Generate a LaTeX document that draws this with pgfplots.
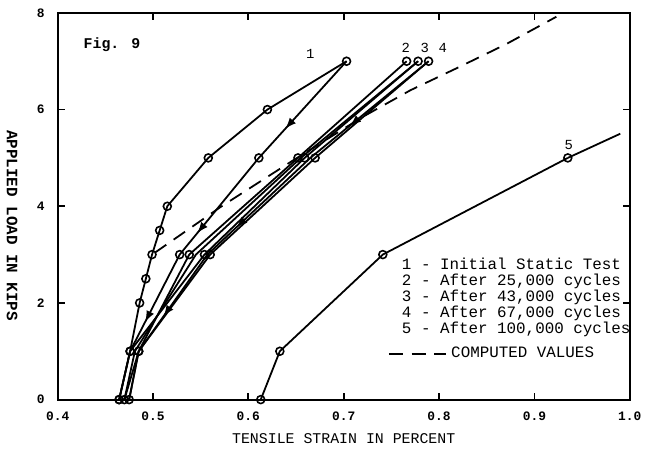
\documentclass[border=0pt]{standalone}
\usepackage{fontspec}
\setmainfont{Liberation Mono}
\usepackage{pgfplots}
\pgfplotsset{compat=1.18}
\usetikzlibrary{decorations.markings}

\tikzset{
  unload/.style={postaction={decorate},
    decoration={markings,
      mark=at position 0.22 with {\arrow{latex}},
      mark=at position 0.55 with {\arrow{latex}},
      mark=at position 0.8 with {\arrow{latex}}}},
}

\begin{document}
\begin{tikzpicture}
\begin{axis}[
  scale only axis,
  width=288.5pt, height=195pt,
  xmin=0.4, xmax=1.0, ymin=0, ymax=8,
  xtick={0.4,0.5,0.6,0.7,0.8,0.9,1.0},
  xticklabels={0.4,0.5,0.6,0.7,0.8,0.9,1.0},
  ytick={0,2,4,6,8},
  tick align=inside,
  major tick length=3.5pt,
  axis line style={line width=1.1pt},
  tick style={line width=0.9pt, black},
  /pgf/number format/assume math mode=true,
  ticklabel style={font=\bfseries\fontsize{6.5}{7}\selectfont},
  yticklabel style={xshift=-3pt},
  xticklabel style={yshift=-2.5pt},
  xlabel={TENSILE STRAIN IN PERCENT},
  ylabel={\bfseries APPLIED LOAD IN KIPS},
  xlabel style={font=\fontsize{7.5}{8}\selectfont},
  ylabel style={font=\fontsize{8}{9}\selectfont, rotate=180, anchor=north,
    at={(ticklabel cs:0.45,3pt)}},
  every axis plot/.append style={black, line width=0.9pt},
  legend style={at={(axis cs:0.746,0.94)}, anchor=west, draw=none, fill=none,
    inner sep=0pt, font=\fontsize{8}{8.5}\selectfont,
    /tikz/column 2/.style={column sep=5pt}},
  legend image code/.code={\draw[#1] (0pt,0pt) -- (29pt,0pt);},
  extra description/.code={\path (rel axis cs:0,1) ++(0,6.5pt);},
]

% 1 - initial static test, loading
\addplot[mark=o, mark size=2pt, mark options={fill=white, line width=0.8pt}, forget plot]
coordinates {(0.4645,0) (0.476,1) (0.486,2) (0.4925,2.5) (0.499,3) (0.507,3.5)
  (0.515,4) (0.558,5) (0.620,6) (0.703,7)};
% 1 - unloading
\addplot[unload, forget plot]
coordinates {(0.703,7) (0.611,5) (0.528,3) (0.476,1) (0.4645,0)};
\addplot[only marks, mark=o, mark size=2pt, mark options={fill=white, line width=0.8pt}, forget plot]
coordinates {(0.611,5) (0.528,3)};

% 2, 3, 4 - after 25,000 / 43,000 / 67,000 cycles
\addplot[forget plot] coordinates {(0.778,7) (0.655,5) (0.545,3) (0.481,1) (0.470,0)};
\addplot[unload, forget plot] coordinates {(0.789,7) (0.665,5) (0.557,3) (0.485,1) (0.475,0)};
\addplot[mark=o, mark size=2pt, mark options={fill=white, line width=0.8pt}, forget plot]
coordinates {(0.470,0) (0.485,1) (0.538,3) (0.652,5) (0.766,7)};
\addplot[mark=o, mark size=2pt, mark options={fill=white, line width=0.8pt}, forget plot]
coordinates {(0.4645,0) (0.476,1) (0.554,3) (0.659,5) (0.778,7)};
\addplot[mark=o, mark size=2pt, mark options={fill=white, line width=0.8pt}, forget plot]
coordinates {(0.475,0) (0.485,1) (0.560,3) (0.670,5) (0.789,7)};

% 5 - after 100,000 cycles
\addplot[mark=o, mark size=2pt, mark options={fill=white, line width=0.8pt}, forget plot]
coordinates {(0.613,0) (0.633,1) (0.741,3) (0.935,5)};
\addplot[forget plot] coordinates {(0.935,5) (0.990,5.5)};

% computed values
\addplot[dash pattern=on 7pt off 4.5pt, line width=0.9pt]
coordinates {(0.502,3.04) (0.572,4.0) (0.647,4.95) (0.720,5.85) (0.770,6.40)
  (0.820,6.87) (0.870,7.35) (0.923,7.92)};
\addlegendentry{COMPUTED VALUES}

\node[font=\bfseries\fontsize{7.5}{8}\selectfont] at (axis cs:0.457,7.34) {Fig. 9};
\node[font=\fontsize{7}{8}\selectfont] at (axis cs:0.665,7.15) {1};
\node[font=\fontsize{7}{8}\selectfont] at (axis cs:0.765,7.28) {2};
\node[font=\fontsize{7}{8}\selectfont] at (axis cs:0.785,7.28) {3};
\node[font=\fontsize{7}{8}\selectfont] at (axis cs:0.804,7.28) {4};
\node[font=\fontsize{7}{8}\selectfont] at (axis cs:0.936,5.27) {5};
\node[anchor=west, align=left, inner sep=0pt, font=\fontsize{8}{8.1}\selectfont]
  at (axis cs:0.7607,2.11)
  {1 - Initial Static Test\\2 - After 25,000 cycles\\3 - After 43,000 cycles\\
   4 - After 67,000 cycles\\5 - After 100,000 cycles};
\end{axis}
\end{tikzpicture}
\end{document}
